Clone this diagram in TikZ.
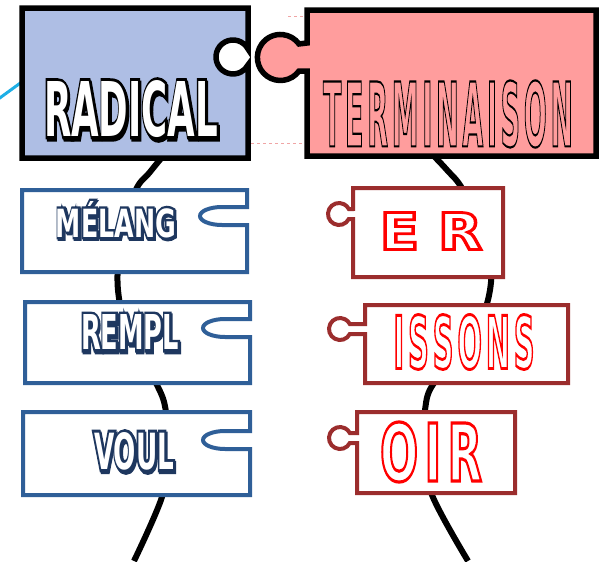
\documentclass[tikz,border=0pt]{standalone}
\usepackage{fontspec}
\usepackage{graphicx}
\newfontfamily\chunky{DejaVu Sans Condensed}
\definecolor{boxblue}{RGB}{47,95,152}
\definecolor{boxred}{RGB}{155,45,45}
\definecolor{navy}{RGB}{30,55,95}
\definecolor{radfill}{RGB}{174,190,228}
\definecolor{termfill}{RGB}{255,157,157}
\definecolor{cyanl}{RGB}{30,175,230}
\definecolor{ghostred}{RGB}{240,165,165}
\definecolor{txtred}{RGB}{255,0,0}
% white letters, coloured outline and shadow
\newcommand\whiteout[6]{%
  \resizebox{#1}{#2}{\chunky\bfseries\fontsize{40pt}{40pt}\selectfont
    \makebox[0pt][l]{\hspace*{#5}\raisebox{-#5}{\color{#3}\special{pdf:literal direct 2 Tr #4 w}#6\special{pdf:literal direct 0 Tr}}}%
    \makebox[0pt][l]{\color{#3}\special{pdf:literal direct 2 Tr #4 w}#6\special{pdf:literal direct 0 Tr}}%
    {\color{white}#6}}}
% hollow letters (outline only)
\newcommand\hollow[5]{%
  \resizebox{#1}{#2}{\chunky\bfseries\fontsize{40pt}{40pt}\selectfont
    \color{#3}\special{pdf:literal direct 1 Tr #4 w}#5\special{pdf:literal direct 0 Tr}}}
\newcommand\ls{\kern 5pt}
\newcommand\lw{\kern 12pt}
\begin{document}
\begin{tikzpicture}[x=1pt,y=-1pt,
  topbox/.style={line width=5.5pt, draw=black, line join=miter},
  bluebox/.style={line width=4pt, draw=boxblue, fill=white},
  redbox/.style={line width=4pt, draw=boxred, fill=white},
  spine/.style={line width=6pt, draw=black},
  cyanline/.style={line width=3pt, draw=cyanl},
  ghost/.style={line width=0.8pt, draw=ghostred, dashed},
  txt/.style={inner sep=0pt, outer sep=0pt}]
\useasboundingbox (0,0) rectangle (605,562);

% light blue line at the left
\coordinate (cl1) at (-3,100);
\coordinate (cl2) at (30,76);
\draw[cyanline] (cl1) -- (cl2);

% spine coordinates
\coordinate (L1) at (168,150);
\coordinate (L2) at (150,172);
\coordinate (L3) at (135,192);
\coordinate (L4) at (121,245);
\coordinate (L5) at (118,290);
\coordinate (L6) at (130,340);
\coordinate (L7) at (157,385);
\coordinate (L8) at (166,412);
\coordinate (L9) at (168,455);
\coordinate (L10) at (162,497);
\coordinate (L11) at (134,561);
\coordinate (R1) at (428,150);
\coordinate (R2) at (447,170);
\coordinate (R3) at (463,190);
\coordinate (R4) at (487,240);
\coordinate (R5) at (490,290);
\coordinate (R6) at (470,345);
\coordinate (R7) at (434,383);
\coordinate (R8) at (425,410);
\coordinate (R9) at (424,450);
\coordinate (R10) at (432,495);
\coordinate (R11) at (468,561);
\draw[spine] plot[smooth, tension=0.6] coordinates {(L1) (L2) (L3) (L4) (L5) (L6) (L7) (L8) (L9) (L10) (L11)};
\draw[spine] plot[smooth, tension=0.6] coordinates {(R1) (R2) (R3) (R4) (R5) (R6) (R7) (R8) (R9) (R10) (R11)};

% faint ghost lines between the top pieces
\coordinate (g1) at (251,143);
\coordinate (g2) at (305,143);
\coordinate (g3) at (288,16);
\coordinate (g4) at (305,16);
\draw[ghost] (g1) -- (g2);
\draw[ghost] (g3) -- (g4);

% top pieces
\path[topbox, fill=radfill] (22,8) -- (248,8) -- (248,49)
  arc[start angle=-28, end angle=-332, radius=17] -- (248,158) -- (22,158) -- cycle;
\path[topbox, fill=termfill] (307,10) -- (596,10) -- (596,156) -- (307,156) -- (307,71) -- (299,71)
  arc[start angle=36, end angle=324, radius=23] -- (307,43) -- cycle;

% blue pieces
\path[bluebox] (22,190) -- (247,190) -- (247,207) -- (222,207)
  arc[start angle=270, end angle=90, x radius=22, y radius=9] -- (247,225) -- (247,272) -- (22,272) -- cycle;
\path[bluebox] (25,302) -- (250,302) -- (250,319) -- (225,319)
  arc[start angle=270, end angle=90, x radius=22, y radius=9] -- (250,337) -- (250,383) -- (25,383) -- cycle;
\path[bluebox] (23,412) -- (250,412) -- (250,431) -- (225,431)
  arc[start angle=270, end angle=90, x radius=22, y radius=9] -- (250,449) -- (250,495) -- (23,495) -- cycle;

% red pieces
\path[redbox] (353,188) -- (503,188) -- (503,277) -- (353,277) -- (353,219) -- (348.8,219)
  arc[start angle=27, end angle=333, radius=11] -- (353,209) -- cycle;
\path[redbox] (365,305) -- (568,305) -- (568,383) -- (365,383) -- (365,334) -- (349.8,334)
  arc[start angle=27, end angle=333, radius=11] -- (365,324) -- cycle;
\path[redbox] (357,412) -- (515,412) -- (515,493) -- (357,493) -- (357,443) -- (349.8,443)
  arc[start angle=27, end angle=333, radius=11] -- (357,433) -- cycle;

% texts
\node[txt] (tRad) at (131,110) {\whiteout{174pt}{56pt}{black}{3.2}{1.3pt}{RADICAL}};
\node[txt] (tTerm) at (448,114) {\hollow{250pt}{66pt}{black}{1.0}{T\ls E\ls R\ls M\ls I\ls N\ls A\ls I\ls S\ls O\ls N}};
\node[txt] (tMel) at (116,220) {\whiteout{120pt}{36pt}{navy}{5}{1.5pt}{MÉLANG}};
\node[txt] (tRem) at (130,333) {\whiteout{98pt}{35pt}{navy}{5}{1.5pt}{REMPL}};
\node[txt] (tVou) at (134,452) {\whiteout{80pt}{37pt}{navy}{5}{1.5pt}{VOUL}};
\node[txt] (tEr) at (431,231) {\hollow{102pt}{37pt}{txtred}{2.2}{E\lw R}};
\node[txt] (tIss) at (464,342) {\hollow{141pt}{54pt}{txtred}{1.6}{I\ls S\ls S\ls O\ls N\ls S}};
\node[txt] (tOir) at (431,452) {\hollow{102pt}{59pt}{txtred}{1.6}{O\ls I\ls R}};
\end{tikzpicture}
\end{document}
